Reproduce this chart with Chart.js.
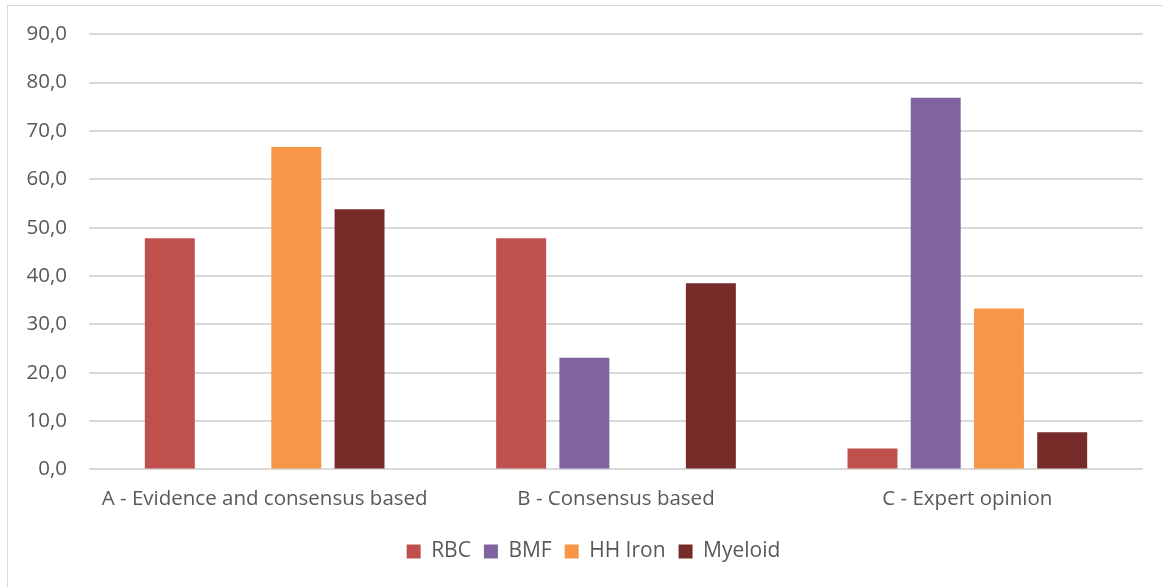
<!DOCTYPE html>
<html>
<head>
<meta charset="utf-8">
<script src="https://cdn.jsdelivr.net/npm/chart.js@4"></script>
<style>
  html, body { margin: 0; padding: 0; background: #fff; }
  #wrap { position: absolute; left: 0; top: 0; width: 1163px; height: 587px; }
  #frame { position: absolute; left: 7px; top: 5px; width: 1160px; height: 600px; border: 1px solid #d9d9d9; box-sizing: border-box; }
</style>
</head>
<body>
<div id="wrap">
  <div id="frame"></div>
  <canvas id="chart" width="1163" height="587"></canvas>
</div>
<script>
var categories = ["A - Evidence and consensus based", "B - Consensus based", "C - Expert opinion"];
var seriesNames = ["RBC", "BMF", "HH Iron", "Myeloid"];
var rbc = [47.8, 47.8, 4.3];
var bmf = [0, 23.1, 76.9];
var hhIron = [66.7, 0, 33.3];
var myeloid = [53.8, 38.5, 7.7];
var colors = ["#C0504D", "#8064A2", "#F79646", "#772C2A"];

var values = [rbc, bmf, hhIron, myeloid];
var datasets = seriesNames.map(function (name, i) {
    return {
        label: name,
        data: values[i],
        backgroundColor: colors[i],
        borderWidth: 0,
        categoryPercentage: 0.72,
        barPercentage: 0.79
    };
});

// legend sits centred under the plot area, not the whole canvas
var shiftLegend = {
    id: "shiftLegend",
    afterLayout: function (chart) {
        chart.legend.left += 22;
        chart.legend.right += 22;
    }
};

Chart.defaults.font.family = "'Open Sans', 'Liberation Sans', sans-serif";
Chart.defaults.color = "#595959";

var canvas = document.getElementById("chart");
new Chart(canvas, {
    type: "bar",
    data: { labels: categories, datasets: datasets },
    plugins: [shiftLegend],
    options: {
        responsive: false,
        animation: false,
        layout: { padding: { top: 28, right: 20, bottom: 15, left: 0 } },
        plugins: {
            tooltip: { enabled: false },
            legend: {
                position: "bottom",
                labels: {
                    boxWidth: 14,
                    boxHeight: 14,
                    padding: 13,
                    font: { size: 21 },
                    color: "#595959"
                }
            }
        },
        scales: {
            x: {
                grid: { display: false, drawTicks: false },
                border: { display: false },
                ticks: { font: { size: 20.5 }, padding: 17, color: "#595959" }
            },
            y: {
                min: 0,
                max: 90,
                afterFit: function (scale) { scale.width = 89; },
                grid: { color: "#d9d9d9", lineWidth: 2, drawTicks: false },
                border: { display: false },
                ticks: {
                    stepSize: 10,
                    padding: 22,
                    font: { size: 20.5 },
                    color: "#595959",
                    callback: function (v) { return v.toFixed(1).replace(".", ","); }
                }
            }
        }
    }
});
</script>
</body>
</html>
